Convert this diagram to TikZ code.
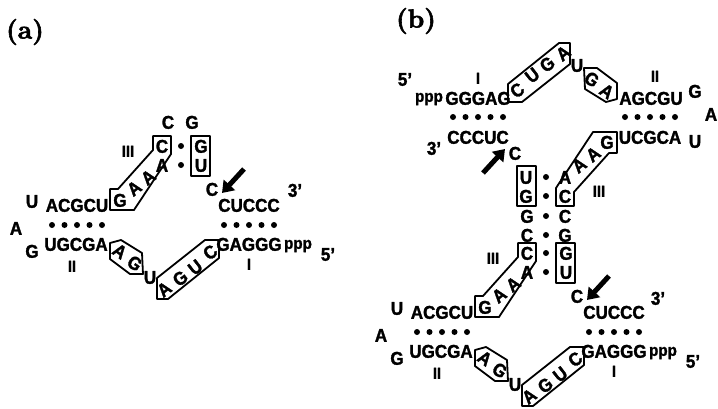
\documentclass[tikz,border=0pt]{standalone}
\usepackage{fontspec}
\newfontfamily\seqfont[FakeStretch=0.92, BoldFeatures={FakeBold=1.6}]{Liberation Sans}
\newfontfamily\panelfont[FakeBold=2.2]{lmroman10-bold.otf}
\usetikzlibrary{arrows.meta}

\tikzset{
  base/.style={inner sep=0pt, outer sep=0pt},
  nt/.style={base, font=\seqfont\bfseries\fontsize{18.5}{18.5}\selectfont, text height=13.5pt, text depth=0pt},
  num/.style={base, font=\seqfont\bfseries\fontsize{16}{16}\selectfont, text height=11.6pt, text depth=0pt},
  tri/.style={base, font=\seqfont\bfseries\fontsize{16.5}{16.5}\selectfont, text height=8.6pt, text depth=0pt},
  boxline/.style={line width=1.8pt, line join=round},
  cleavage/.style={line width=5pt, -{Triangle[length=11pt,width=15pt]}},
  panel/.style={base, font=\panelfont\fontsize{26}{26}\selectfont},
}

% One hammerhead unit: two stems joined by the boxed core, plus the
% terminal loop, the cleavage arrow and the stem numbers.
% #1 name prefix, #2-#5 the four stem strands (read left to right).
\newcommand\hammerhead[5]{%
  % stems
  \node[nt] (#1-s1) at (77,205) {#2};
  \node[nt] (#1-s2) at (76,244) {#3};
  \node[nt] (#1-s3) at (249,205) {#4};
  \node[nt] (#1-s4) at (249,244) {#5};
  \foreach \x in {52,64.5,77,89.5,102} \fill (\x,225) circle (3);
  \foreach \x in {224,236.5,249,261.5,274} \fill (\x,225) circle (3);
  % loop
  \node[nt] (#1-l1) at (32,201) {U};
  \node[nt] (#1-l2) at (16,228) {A};
  \node[nt] (#1-l3) at (32,251) {G};
  % stem numbers and triphosphate
  \node[num] (#1-n1) at (249,264) {I};
  \node[num] (#1-n2) at (72,266) {II};
  \node[num] (#1-n3) at (128,151) {III};
  \node[tri] (#1-ppp) at (298,244.5) {ppp};
  % stem III pairs
  \node[nt] (#1-c1) at (162,146) {C};
  \node[nt] (#1-c2) at (162,165) {A};
  \node[nt] (#1-c3) at (201,146) {G};
  \node[nt] (#1-c4) at (201,165) {U};
  \fill (181,146) circle (3);
  \fill (181,165) circle (3);
  % conserved core, upper strand
  \node[nt] (#1-u1) at (120,200) {G};
  \node[nt, rotate=38] (#1-u2) at (134,188) {A};
  \node[nt, rotate=38] (#1-u3) at (148,177) {A};
  \draw[boxline] (153,136) -- (171,136) -- (171,154) -- (134,210) -- (110,210)
    -- (110,189) -- (118,189) -- (153,150) -- cycle;
  \draw[boxline] (191,136) rectangle (210,176);
  \node[nt] (#1-cs) at (212,189) {C};
  % conserved core, lower strand
  \node[nt, rotate=-35] (#1-b1) at (120,251) {A};
  \node[nt, rotate=-35] (#1-b2) at (135,263) {G};
  \node[nt] (#1-b3) at (150,277) {U};
  \node[nt, rotate=38] (#1-b4) at (164,289) {A};
  \node[nt, rotate=38] (#1-b5) at (180,278) {G};
  \node[nt, rotate=38] (#1-b6) at (195,267) {U};
  \node[nt, rotate=38] (#1-b7) at (210,252) {C};
  \draw[boxline] (110,243) -- (121,240) -- (142,253) -- (143,274) -- (130,274)
    -- (110,259) -- cycle;
  \draw[boxline] (157,278) -- (157,299) -- (168,299) -- (219,258) -- (219,240)
    -- (205,240) -- cycle;
  % cleavage site
  \coordinate (#1-tail) at (244,169);
  \coordinate (#1-tip) at (222,193);
  \draw[cleavage] (#1-tail) -- (#1-tip);
}

\begin{document}
\begin{tikzpicture}[x=1pt, y=-1pt]
  \useasboundingbox (0,0) rectangle (718,408);
  \fill[white] (0,0) rectangle (718,408);

  % ---- (a) ----
  \node[panel] (lab-a) at (25,32) {(a)};
  \hammerhead{a}{ACGCU}{UGCGA}{CUCCC}{GAGGG}
  \node[nt] (a-t1) at (168,122) {C};
  \node[nt] (a-t2) at (192,122) {G};
  \node[nt] (a-3p) at (295,190) {3’};
  \node[nt] (a-5p) at (328,254) {5’};

  % ---- (b) ----
  \node[panel] (lab-b) at (416,21) {(b)};
  \begin{scope}[shift={(365,107)}]
    \hammerhead{bl}{ACGCU}{UGCGA}{CUCCC}{GAGGG}
  \end{scope}
  \begin{scope}[shift={(727,342)}, xscale=-1, yscale=-1]
    \hammerhead{bu}{UCGCA}{AGCGU}{CCCUC}{GGGAG}
  \end{scope}
  \node[nt] (b-m1) at (527,216) {G};
  \node[nt] (b-m2) at (565,216) {C};
  \node[nt] (b-m3) at (527,235) {C};
  \node[nt] (b-m4) at (565,235) {G};
  \fill (546,216) circle (3);
  \fill (546,235) circle (3);
  \node[nt] (bu-5p) at (405,79) {5’};
  \node[nt] (bu-3p) at (434,148) {3’};
  \node[nt] (bl-3p) at (658,298) {3’};
  \node[nt] (bl-5p) at (693,361) {5’};
\end{tikzpicture}
\end{document}
